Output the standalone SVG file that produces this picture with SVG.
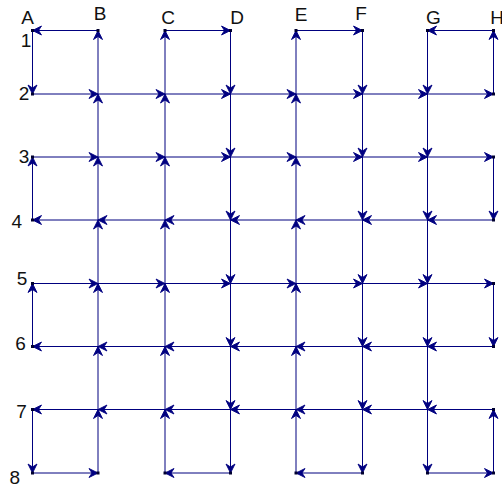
<svg xmlns="http://www.w3.org/2000/svg" width="502" height="487" viewBox="0 0 502 487">
<style>
.lbl{font-family:"Liberation Sans",Arial,sans-serif;font-size:19px;fill:#111;text-anchor:middle}
.e{stroke:#00007f;stroke-width:1;fill:none;marker-end:url(#ah)}
.dot{fill:#000030}
</style>
<defs>
<marker id="ah" viewBox="-11 -6 12 12" refX="0" refY="0" markerWidth="12" markerHeight="12" markerUnits="userSpaceOnUse" orient="auto">
<path d="M0,0 L-9,-4.5 L-6,0 L-9,4.5 Z" fill="#000080" stroke="#000080" stroke-width="0.9" stroke-linejoin="round"/>
</marker>
</defs>
<rect width="502" height="487" fill="#fff"/>
<g id="labels">
<g id="col-A"><text class="lbl" x="27.5" y="24">A</text></g>
<g id="col-B"><text class="lbl" x="100" y="19.5">B</text></g>
<g id="col-C"><text class="lbl" x="168" y="24">C</text></g>
<g id="col-D"><text class="lbl" x="237" y="24">D</text></g>
<g id="col-E"><text class="lbl" x="301" y="21">E</text></g>
<g id="col-F"><text class="lbl" x="361" y="19.5">F</text></g>
<g id="col-G"><text class="lbl" x="433.5" y="23.5">G</text></g>
<g id="col-H"><text class="lbl" x="497" y="23.5">H</text></g>
<g id="row-1"><text class="lbl" x="26" y="46.5">1</text></g>
<g id="row-2"><text class="lbl" x="24" y="99.5">2</text></g>
<g id="row-3"><text class="lbl" x="24" y="163">3</text></g>
<g id="row-4"><text class="lbl" x="16.7" y="227.5">4</text></g>
<g id="row-5"><text class="lbl" x="22" y="285">5</text></g>
<g id="row-6"><text class="lbl" x="20.5" y="350">6</text></g>
<g id="row-7"><text class="lbl" x="21.5" y="418">7</text></g>
<g id="row-8"><text class="lbl" x="14.7" y="484">8</text></g>
</g>
<g id="connectors">
<!-- row 1 -->
<line class="e" x1="98" y1="30.5" x2="32.5" y2="30.5"/>
<line class="e" x1="165" y1="30.5" x2="230.5" y2="30.5"/>
<line class="e" x1="296" y1="30.5" x2="362.5" y2="30.5"/>
<line class="e" x1="493.5" y1="30.5" x2="427.5" y2="30.5"/>
<!-- row 2 -->
<line class="e" x1="32.5" y1="94" x2="98" y2="94"/>
<line class="e" x1="98" y1="94" x2="165" y2="94"/>
<line class="e" x1="165" y1="94" x2="230.5" y2="94"/>
<line class="e" x1="230.5" y1="94" x2="296" y2="94"/>
<line class="e" x1="296" y1="94" x2="362.5" y2="94"/>
<line class="e" x1="362.5" y1="94" x2="427.5" y2="94"/>
<line class="e" x1="427.5" y1="94" x2="493.5" y2="94"/>
<!-- row 3 -->
<line class="e" x1="32.5" y1="157" x2="98" y2="157"/>
<line class="e" x1="98" y1="157" x2="165" y2="157"/>
<line class="e" x1="165" y1="157" x2="230.5" y2="157"/>
<line class="e" x1="230.5" y1="157" x2="296" y2="157"/>
<line class="e" x1="296" y1="157" x2="362.5" y2="157"/>
<line class="e" x1="362.5" y1="157" x2="427.5" y2="157"/>
<line class="e" x1="427.5" y1="157" x2="493.5" y2="157"/>
<!-- row 4 -->
<line class="e" x1="493.5" y1="220" x2="427.5" y2="220"/>
<line class="e" x1="427.5" y1="220" x2="362.5" y2="220"/>
<line class="e" x1="362.5" y1="220" x2="296" y2="220"/>
<line class="e" x1="296" y1="220" x2="230.5" y2="220"/>
<line class="e" x1="230.5" y1="220" x2="165" y2="220"/>
<line class="e" x1="165" y1="220" x2="98" y2="220"/>
<line class="e" x1="98" y1="220" x2="32.5" y2="220"/>
<!-- row 5 -->
<line class="e" x1="32.5" y1="283.5" x2="98" y2="283.5"/>
<line class="e" x1="98" y1="283.5" x2="165" y2="283.5"/>
<line class="e" x1="165" y1="283.5" x2="230.5" y2="283.5"/>
<line class="e" x1="230.5" y1="283.5" x2="296" y2="283.5"/>
<line class="e" x1="296" y1="283.5" x2="362.5" y2="283.5"/>
<line class="e" x1="362.5" y1="283.5" x2="427.5" y2="283.5"/>
<line class="e" x1="427.5" y1="283.5" x2="493.5" y2="283.5"/>
<!-- row 6 -->
<line class="e" x1="493.5" y1="346.5" x2="427.5" y2="346.5"/>
<line class="e" x1="427.5" y1="346.5" x2="362.5" y2="346.5"/>
<line class="e" x1="362.5" y1="346.5" x2="296" y2="346.5"/>
<line class="e" x1="296" y1="346.5" x2="230.5" y2="346.5"/>
<line class="e" x1="230.5" y1="346.5" x2="165" y2="346.5"/>
<line class="e" x1="165" y1="346.5" x2="98" y2="346.5"/>
<line class="e" x1="98" y1="346.5" x2="32.5" y2="346.5"/>
<!-- row 7 -->
<line class="e" x1="493.5" y1="409.5" x2="427.5" y2="409.5"/>
<line class="e" x1="427.5" y1="409.5" x2="362.5" y2="409.5"/>
<line class="e" x1="362.5" y1="409.5" x2="296" y2="409.5"/>
<line class="e" x1="296" y1="409.5" x2="230.5" y2="409.5"/>
<line class="e" x1="230.5" y1="409.5" x2="165" y2="409.5"/>
<line class="e" x1="165" y1="409.5" x2="98" y2="409.5"/>
<line class="e" x1="98" y1="409.5" x2="32.5" y2="409.5"/>
<!-- row 8 -->
<line class="e" x1="32.5" y1="473" x2="98" y2="473"/>
<line class="e" x1="230.5" y1="473" x2="165" y2="473"/>
<line class="e" x1="362.5" y1="473" x2="296" y2="473"/>
<line class="e" x1="427.5" y1="473" x2="493.5" y2="473"/>
<!-- column A -->
<line class="e" x1="32.5" y1="30.5" x2="32.5" y2="94"/>
<line class="e" x1="32.5" y1="220" x2="32.5" y2="157"/>
<line class="e" x1="32.5" y1="346.5" x2="32.5" y2="283.5"/>
<line class="e" x1="32.5" y1="409.5" x2="32.5" y2="473"/>
<!-- column B (up) -->
<line class="e" x1="98" y1="94" x2="98" y2="30.5"/>
<line class="e" x1="98" y1="157" x2="98" y2="94"/>
<line class="e" x1="98" y1="220" x2="98" y2="157"/>
<line class="e" x1="98" y1="283.5" x2="98" y2="220"/>
<line class="e" x1="98" y1="346.5" x2="98" y2="283.5"/>
<line class="e" x1="98" y1="409.5" x2="98" y2="346.5"/>
<line class="e" x1="98" y1="473" x2="98" y2="409.5"/>
<!-- column C (up) -->
<line class="e" x1="165" y1="94" x2="165" y2="30.5"/>
<line class="e" x1="165" y1="157" x2="165" y2="94"/>
<line class="e" x1="165" y1="220" x2="165" y2="157"/>
<line class="e" x1="165" y1="283.5" x2="165" y2="220"/>
<line class="e" x1="165" y1="346.5" x2="165" y2="283.5"/>
<line class="e" x1="165" y1="409.5" x2="165" y2="346.5"/>
<line class="e" x1="165" y1="473" x2="165" y2="409.5"/>
<!-- column D (down) -->
<line class="e" x1="230.5" y1="30.5" x2="230.5" y2="94"/>
<line class="e" x1="230.5" y1="94" x2="230.5" y2="157"/>
<line class="e" x1="230.5" y1="157" x2="230.5" y2="220"/>
<line class="e" x1="230.5" y1="220" x2="230.5" y2="283.5"/>
<line class="e" x1="230.5" y1="283.5" x2="230.5" y2="346.5"/>
<line class="e" x1="230.5" y1="346.5" x2="230.5" y2="409.5"/>
<line class="e" x1="230.5" y1="409.5" x2="230.5" y2="473"/>
<!-- column E (up) -->
<line class="e" x1="296" y1="94" x2="296" y2="30.5"/>
<line class="e" x1="296" y1="157" x2="296" y2="94"/>
<line class="e" x1="296" y1="220" x2="296" y2="157"/>
<line class="e" x1="296" y1="283.5" x2="296" y2="220"/>
<line class="e" x1="296" y1="346.5" x2="296" y2="283.5"/>
<line class="e" x1="296" y1="409.5" x2="296" y2="346.5"/>
<line class="e" x1="296" y1="473" x2="296" y2="409.5"/>
<!-- column F (down) -->
<line class="e" x1="362.5" y1="30.5" x2="362.5" y2="94"/>
<line class="e" x1="362.5" y1="94" x2="362.5" y2="157"/>
<line class="e" x1="362.5" y1="157" x2="362.5" y2="220"/>
<line class="e" x1="362.5" y1="220" x2="362.5" y2="283.5"/>
<line class="e" x1="362.5" y1="283.5" x2="362.5" y2="346.5"/>
<line class="e" x1="362.5" y1="346.5" x2="362.5" y2="409.5"/>
<line class="e" x1="362.5" y1="409.5" x2="362.5" y2="473"/>
<!-- column G (down) -->
<line class="e" x1="427.5" y1="30.5" x2="427.5" y2="94"/>
<line class="e" x1="427.5" y1="94" x2="427.5" y2="157"/>
<line class="e" x1="427.5" y1="157" x2="427.5" y2="220"/>
<line class="e" x1="427.5" y1="220" x2="427.5" y2="283.5"/>
<line class="e" x1="427.5" y1="283.5" x2="427.5" y2="346.5"/>
<line class="e" x1="427.5" y1="346.5" x2="427.5" y2="409.5"/>
<line class="e" x1="427.5" y1="409.5" x2="427.5" y2="473"/>
<!-- column H -->
<line class="e" x1="493.5" y1="94" x2="493.5" y2="30.5"/>
<line class="e" x1="493.5" y1="157" x2="493.5" y2="220"/>
<line class="e" x1="493.5" y1="283.5" x2="493.5" y2="346.5"/>
<line class="e" x1="493.5" y1="473" x2="493.5" y2="409.5"/>
</g>
<g id="end-points">
<rect class="dot" x="31" y="29" width="3" height="3"/>
<rect class="dot" x="96.5" y="29" width="3" height="3"/>
<rect class="dot" x="163.5" y="29" width="3" height="3"/>
<rect class="dot" x="229" y="29" width="3" height="3"/>
<rect class="dot" x="294.5" y="29" width="3" height="3"/>
<rect class="dot" x="361" y="29" width="3" height="3"/>
<rect class="dot" x="426" y="29" width="3" height="3"/>
<rect class="dot" x="492" y="29" width="3" height="3"/>
<rect class="dot" x="31" y="92.5" width="3" height="3"/>
<rect class="dot" x="492" y="92.5" width="3" height="3"/>
<rect class="dot" x="31" y="155.5" width="3" height="3"/>
<rect class="dot" x="492" y="155.5" width="3" height="3"/>
<rect class="dot" x="31" y="218.5" width="3" height="3"/>
<rect class="dot" x="492" y="218.5" width="3" height="3"/>
<rect class="dot" x="31" y="282" width="3" height="3"/>
<rect class="dot" x="492" y="282" width="3" height="3"/>
<rect class="dot" x="31" y="345" width="3" height="3"/>
<rect class="dot" x="492" y="345" width="3" height="3"/>
<rect class="dot" x="31" y="408" width="3" height="3"/>
<rect class="dot" x="492" y="408" width="3" height="3"/>
<rect class="dot" x="31" y="471.5" width="3" height="3"/>
<rect class="dot" x="96.5" y="471.5" width="3" height="3"/>
<rect class="dot" x="163.5" y="471.5" width="3" height="3"/>
<rect class="dot" x="229" y="471.5" width="3" height="3"/>
<rect class="dot" x="294.5" y="471.5" width="3" height="3"/>
<rect class="dot" x="361" y="471.5" width="3" height="3"/>
<rect class="dot" x="426" y="471.5" width="3" height="3"/>
<rect class="dot" x="492" y="471.5" width="3" height="3"/>
</g>
</svg>
